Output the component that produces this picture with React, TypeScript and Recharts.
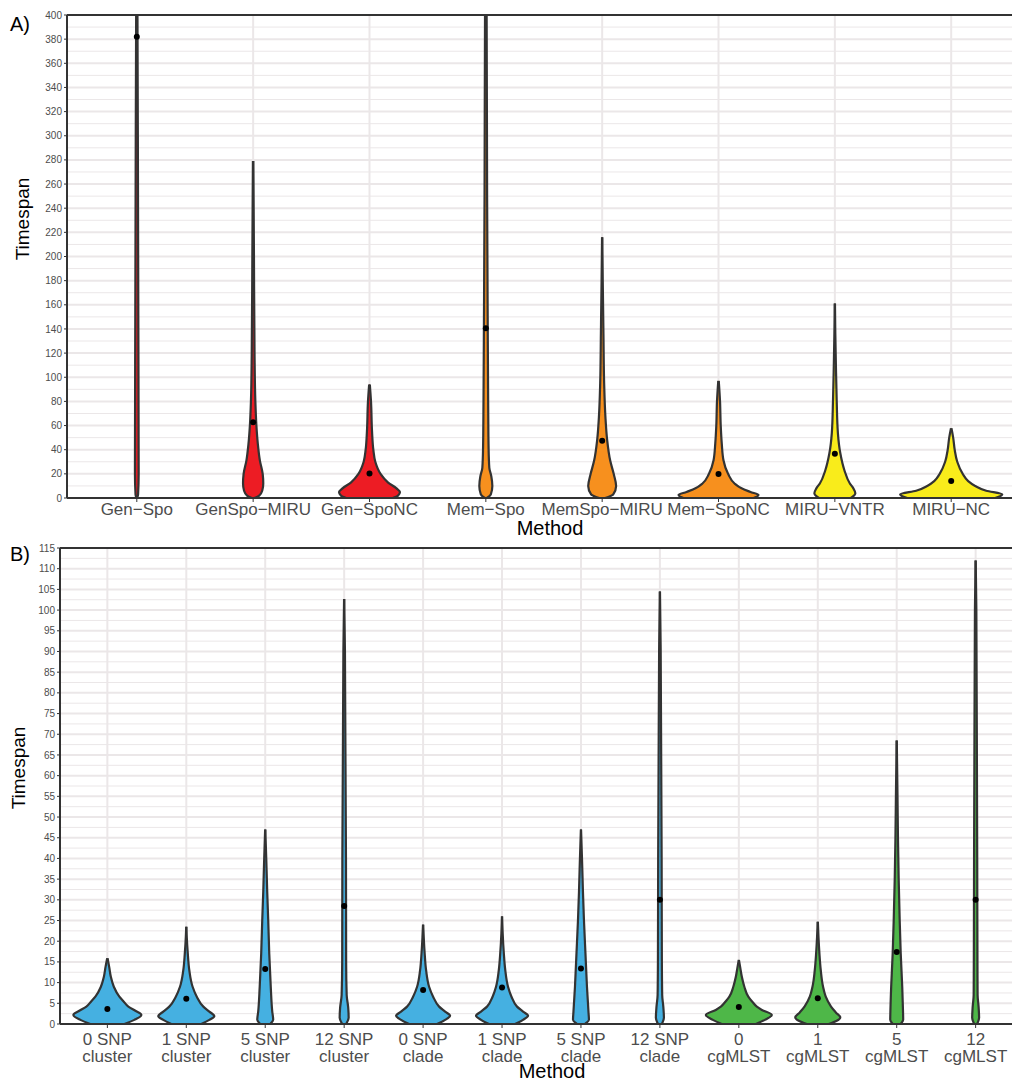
import React from "react";
import {
  Area,
  CartesianGrid,
  ComposedChart,
  ReferenceLine,
  Scatter,
  XAxis,
  YAxis,
} from "recharts";

const FONT = "'Liberation Sans', Arial, Helvetica, sans-serif";
const OUTLINE = "#333333";
const GRID = "#ebe7e8";
const TICK_TEXT = "#4d4d4d";

// ---------- panel A ----------
const methodsA = [
  ["Gen\u2212Spo"],
  ["GenSpo\u2212MIRU"],
  ["Gen\u2212SpoNC"],
  ["Mem\u2212Spo"],
  ["MemSpo\u2212MIRU"],
  ["Mem\u2212SpoNC"],
  ["MIRU\u2212VNTR"],
  ["MIRU\u2212NC"],
];
const fillsA = ["#ED1C24", "#ED1C24", "#ED1C24", "#F7901E", "#F7901E", "#F7901E", "#F9EC1B", "#F9EC1B"];
const mediansA = [382, 62.7, 20.2, 140.5, 47.5, 19.9, 36.7, 14.1];
const ticksA = [0, 20, 40, 60, 80, 100, 120, 140, 160, 180, 200, 220, 240, 260, 280, 300, 320, 340, 360, 380, 400];
const minorA = [10, 30, 50, 70, 90, 110, 130, 150, 170, 190, 210, 230, 250, 270, 290, 310, 330, 350, 370, 390];

// violin profiles: [timespan, half width in category units]
const genSpo = [[0, 0.003], [3, 0.011], [20, 0.016], [150, 0.013], [300, 0.009], [420, 0.005]];
const genSpoMiru = [[0, 0.012], [2, 0.052], [6, 0.078], [12, 0.087], [20, 0.082], [31, 0.058], [45, 0.04], [60, 0.028], [80, 0.019], [120, 0.012], [200, 0.007], [279, 0.002]];
const genSpoNc = [[0, 0.2], [2, 0.245], [5, 0.262], [8, 0.232], [13, 0.158], [20, 0.095], [30, 0.05], [40, 0.033], [55, 0.022], [80, 0.013], [94, 0.003]];
const memSpo = [[0, 0.009], [3, 0.043], [10, 0.056], [18, 0.047], [25, 0.03], [40, 0.024], [80, 0.02], [150, 0.016], [250, 0.011], [400, 0.007], [420, 0.004]];
const memSpoMiru = [[0, 0.026], [3, 0.095], [10, 0.12], [20, 0.099], [31, 0.069], [48, 0.043], [67, 0.028], [95, 0.017], [136, 0.011], [180, 0.005], [216, 0.001]];
const memSpoNc = [[0, 0.301], [2.5, 0.344], [5, 0.275], [8, 0.198], [12, 0.138], [20, 0.082], [31, 0.043], [45, 0.028], [60, 0.019], [80, 0.013], [97, 0.002]];
const miruVntr = [[0, 0.138], [4, 0.176], [8, 0.159], [12, 0.129], [23, 0.082], [37, 0.047], [54, 0.026], [80, 0.016], [110, 0.009], [136, 0.004], [161, 0.001]];
const miruNc = [[0, 0.378], [3, 0.439], [6, 0.301], [10, 0.206], [14, 0.146], [20, 0.099], [30, 0.052], [40, 0.03], [50, 0.017], [57.7, 0.002]];
const violinsA = [genSpo, genSpoMiru, genSpoNc, memSpo, memSpoMiru, memSpoNc, miruVntr, miruNc];

// ---------- panel B ----------
const methodsB = [
  ["0 SNP", "cluster"],
  ["1 SNP", "cluster"],
  ["5 SNP", "cluster"],
  ["12 SNP", "cluster"],
  ["0 SNP", "clade"],
  ["1 SNP", "clade"],
  ["5 SNP", "clade"],
  ["12 SNP", "clade"],
  ["0", "cgMLST"],
  ["1", "cgMLST"],
  ["5", "cgMLST"],
  ["12", "cgMLST"],
];
const fillsB = ["#45B0E1", "#45B0E1", "#45B0E1", "#45B0E1", "#45B0E1", "#45B0E1", "#45B0E1", "#45B0E1", "#4EB748", "#4EB748", "#4EB748", "#4EB748"];
const mediansB = [3.6, 6.1, 13.3, 28.5, 8.2, 8.8, 13.4, 30, 4.1, 6.2, 17.4, 30];
const ticksB = [0, 5, 10, 15, 20, 25, 30, 35, 40, 45, 50, 55, 60, 65, 70, 75, 80, 85, 90, 95, 100, 105, 110, 115];
const minorB = [2.5, 7.5, 12.5, 17.5, 22.5, 27.5, 32.5, 37.5, 42.5, 47.5, 52.5, 57.5, 62.5, 67.5, 72.5, 77.5, 82.5, 87.5, 92.5, 97.5, 102.5, 107.5, 112.5];

const snp0Cluster = [[0, 0.216], [1, 0.342], [2.2, 0.431], [3.2, 0.355], [4.2, 0.266], [5.5, 0.203], [6.6, 0.152], [9, 0.082], [11.4, 0.044], [13.8, 0.023], [15.9, 0.002]];
const snp1Cluster = [[0, 0.19], [1, 0.292], [1.9, 0.355], [3, 0.292], [4.2, 0.216], [6.6, 0.133], [9, 0.08], [13, 0.038], [17, 0.019], [21, 0.006], [23.5, 0.001]];
const snp5Cluster = [[0, 0.063], [1, 0.101], [3, 0.089], [9, 0.07], [17, 0.051], [25, 0.038], [32, 0.025], [40, 0.013], [47, 0.001]];
const snp12Cluster = [[0, 0.025], [1.5, 0.057], [4, 0.051], [7, 0.032], [15, 0.025], [40, 0.023], [70, 0.015], [90, 0.01], [102.7, 0.001]];
const snp0Clade = [[0, 0.177], [1, 0.279], [2, 0.342], [3, 0.279], [4.2, 0.203], [6.6, 0.127], [9, 0.076], [13, 0.038], [17, 0.02], [21, 0.008], [24, 0.001]];
const snp1Clade = [[0, 0.165], [1, 0.266], [2, 0.33], [3, 0.266], [4.2, 0.19], [6.6, 0.12], [9, 0.076], [13, 0.041], [17, 0.023], [22, 0.008], [26, 0.001]];
const snp5Clade = [[0, 0.051], [1, 0.101], [3, 0.095], [9, 0.076], [17, 0.057], [25, 0.038], [32, 0.025], [40, 0.013], [47, 0.001]];
const snp12Clade = [[0, 0.025], [1.5, 0.051], [4, 0.044], [7, 0.029], [15, 0.025], [40, 0.022], [70, 0.015], [90, 0.01], [104.5, 0.001]];
const cg0 = [[0, 0.216], [1, 0.33], [2.2, 0.418], [3.4, 0.292], [4.2, 0.228], [5.5, 0.165], [6.6, 0.12], [9, 0.07], [11.4, 0.038], [13.5, 0.019], [15.5, 0.001]];
const cg1 = [[0, 0.139], [0.8, 0.241], [1.6, 0.285], [2.8, 0.228], [4.2, 0.168], [6.6, 0.101], [9, 0.067], [13, 0.038], [17, 0.021], [21, 0.009], [24.7, 0.001]];
const cg5 = [[0, 0.051], [1, 0.082], [3, 0.08], [9, 0.07], [17, 0.051], [25, 0.038], [35, 0.025], [45, 0.016], [55, 0.01], [68.5, 0.001]];
const cg12 = [[0, 0.019], [1.5, 0.044], [4, 0.038], [7, 0.025], [15, 0.023], [40, 0.02], [70, 0.015], [100, 0.009], [112, 0.001]];
const violinsB = [snp0Cluster, snp1Cluster, snp5Cluster, snp12Cluster, snp0Clade, snp1Clade, snp5Clade, snp12Clade, cg0, cg1, cg5, cg12];

function violinRows(profile: number[][], center: number) {
  return profile.map(([v, w]) => ({ y: v, range: [center - w, center + w] }));
}

function MethodTick(props: any) {
  const { x, y, payload, labels, dy } = props;
  const lines: string[] = labels[payload.value] || [];
  return (
    <text x={x} y={y} textAnchor="middle" fill={TICK_TEXT} fontSize={17} fontFamily={FONT}>
      {lines.map((l, k) => (
        <tspan key={k} x={x} dy={k === 0 ? dy : 16.5}>
          {l}
        </tspan>
      ))}
    </text>
  );
}

type PanelProps = {
  width: number;
  height: number;
  margin: { top: number; right: number; bottom: number; left: number };
  labels: string[][];
  fills: string[];
  medians: number[];
  violins: number[][][];
  ticks: number[];
  minor: number[];
  yMax: number;
  xAxisHeight: number;
  labelDy: number;
  tickFont: number;
};

function ViolinPanel(p: PanelProps) {
  const n = p.labels.length;
  const cats = p.labels.map((_, i) => i);
  const medianRows = p.medians.map((m, i) => ({ x: i, y: m }));
  return (
    <ComposedChart width={p.width} height={p.height} layout="vertical" margin={p.margin}>
      <CartesianGrid stroke={GRID} strokeWidth={1} vertical={false} horizontalValues={p.minor} />
      <CartesianGrid stroke={GRID} strokeWidth={2} />
      <XAxis
        type="number"
        dataKey="x"
        domain={[-0.6, n - 0.4]}
        allowDataOverflow
        ticks={cats}
        interval={0}
        height={p.xAxisHeight}
        axisLine={{ stroke: OUTLINE, strokeWidth: 2 }}
        tickLine={{ stroke: OUTLINE, strokeWidth: 1 }}
        tickSize={4}
        tick={<MethodTick labels={p.labels} dy={p.labelDy} />}
      />
      <YAxis
        type="number"
        dataKey="y"
        domain={[0, p.yMax]}
        allowDataOverflow
        reversed
        ticks={p.ticks}
        interval={0}
        width={40}
        axisLine={{ stroke: OUTLINE, strokeWidth: 2 }}
        tickLine={{ stroke: OUTLINE, strokeWidth: 1 }}
        tickSize={3}
        tickMargin={2}
        tick={{ fill: TICK_TEXT, fontSize: p.tickFont, fontFamily: FONT }}
      />
      <ReferenceLine y={p.yMax} stroke={OUTLINE} strokeWidth={2} />
      {p.violins.map((profile, i) => (
        <Area
          key={i}
          data={violinRows(profile, i)}
          dataKey="range"
          type="monotone"
          fill={p.fills[i]}
          fillOpacity={1}
          stroke={OUTLINE}
          strokeWidth={2.2}
          dot={false}
          activeDot={false}
          connectNulls
          isAnimationActive={false}
        />
      ))}
      <Scatter
        data={medianRows}
        fill="#000"
        isAnimationActive={false}
        shape={(s: any) => <circle cx={s.cx} cy={s.cy} r={3} fill="#000" />}
      />
    </ComposedChart>
  );
}

export default function App() {
  return (
    <div
      style={{
        position: "fixed",
        left: 0,
        top: 0,
        width: 1012,
        height: 1082,
        overflow: "hidden",
        background: "#fff",
      }}
    >
      <div style={{ position: "absolute", left: 0, top: 0 }}>
        <ViolinPanel
          width={1025}
          height={540}
          margin={{ top: 15, right: 4, bottom: 12, left: 27 }}
          labels={methodsA}
          fills={fillsA}
          medians={mediansA}
          violins={violinsA}
          ticks={ticksA}
          minor={minorA}
          yMax={400}
          xAxisHeight={30}
          labelDy={11}
          tickFont={10}
        />
      </div>
      <div style={{ position: "absolute", left: 0, top: 520 }}>
        <ViolinPanel
          width={1025}
          height={562}
          margin={{ top: 28, right: 2, bottom: 8, left: 20 }}
          labels={methodsB}
          fills={fillsB}
          medians={mediansB}
          violins={violinsB}
          ticks={ticksB}
          minor={minorB}
          yMax={115}
          xAxisHeight={50}
          labelDy={15}
          tickFont={10}
        />
      </div>
      <svg
        width={1012}
        height={1082}
        style={{ position: "absolute", left: 0, top: 0, pointerEvents: "none" }}
        fontFamily={FONT}
      >
        <text x={10} y={31} fontSize={20} fill="#000">A)</text>
        <text x={10} y={561} fontSize={20} fill="#000">B)</text>
        <text x={29} y={219} fontSize={19} fill="#000" textAnchor="middle" transform="rotate(-90 29 219)">
          Timespan
        </text>
        <text x={25} y={768} fontSize={19} fill="#000" textAnchor="middle" transform="rotate(-90 25 768)">
          Timespan
        </text>
        <text x={550} y={535} fontSize={20} fill="#000" textAnchor="middle">Method</text>
        <text x={552} y={1078} fontSize={20} fill="#000" textAnchor="middle">Method</text>
      </svg>
    </div>
  );
}
